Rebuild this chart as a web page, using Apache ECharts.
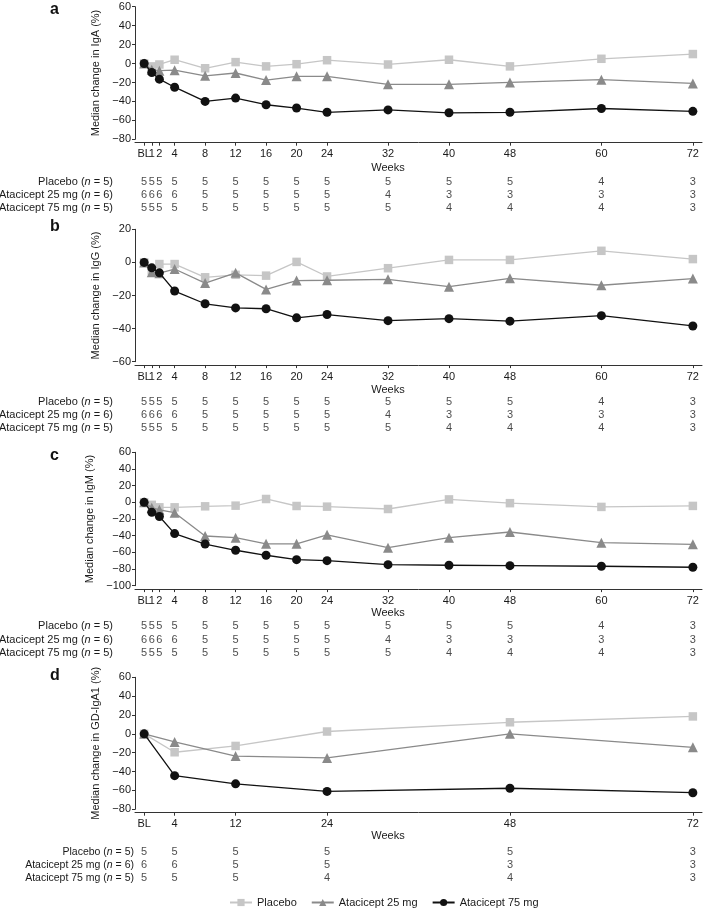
<!DOCTYPE html>
<html><head><meta charset="utf-8">
<script src="https://cdn.jsdelivr.net/npm/echarts@6/dist/echarts.min.js"></script>
<style>html,body{margin:0;padding:0;background:#fff}#c{width:705px;height:910px}</style>
</head><body><div id="c"></div>
<script>
// ---------- data ----------
const weeksABC = [0, 1, 2, 4, 8, 12, 16, 20, 24, 32, 40, 48, 60, 72];
const weeksD = [0, 4, 12, 24, 48, 72];
const xTickLabelsABC = ['BL', '1', '2', '4', '8', '12', '16', '20', '24', '32', '40', '48', '60', '72'];
const xTickLabelsD = ['BL', '4', '12', '24', '48', '72'];

const seriesNames = ['Placebo', 'Atacicept 25 mg', 'Atacicept 75 mg'];
const groupN = [5, 6, 5];

// a: IgA
const igaPlacebo = [0, -3, -1, 4, -5, 1.5, -3, -0.7, 3.5, -1, 4, -3, 5, 10];
const iga25 = [0, -6.5, -7.5, -7, -13, -10, -17.5, -13.5, -13.5, -22, -22, -20, -17, -21];
const iga75 = [0, -9.5, -16.5, -25, -40, -36.5, -43.5, -47, -51.5, -49, -52, -51.5, -47.5, -50.5];
// b: IgG
const iggPlacebo = [0, -5, -1, -1, -9, -7.5, -8, 0.3, -8.5, -3.5, 1.5, 1.5, 7, 2];
const igg25 = [0, -6, -6.5, -4, -12.5, -6.3, -16.3, -11, -10.8, -10.2, -14.7, -9.6, -13.8, -9.8];
const igg75 = [0, -3.3, -6.3, -17.3, -25, -27.5, -28, -33.5, -31.5, -35.2, -34, -35.5, -32.2, -38.4];
// c: IgM
const igmPlacebo = [0, -3, -6, -6, -4.8, -4, 4, -4.4, -5.2, -8, 3.5, -1, -5.5, -4.3];
const igm25 = [0, -6.4, -9, -12.4, -40.4, -42.4, -49.8, -49.8, -39, -54.4, -42.4, -35.6, -48.4, -50.4];
const igm75 = [0, -12, -17, -37.5, -50, -57.5, -63.5, -68.8, -70, -74.8, -75.5, -76, -76.7, -77.9];
// d: GD-IgA1
const gdPlacebo = [0, -19.5, -12.8, 2.5, 12.3, 18.5];
const gd25 = [0, -8.5, -23.5, -25.5, 0, -14.3];
const gd75 = [0, -44.3, -53, -61, -57.7, -62.4];

// patients at risk tables
const nPlaceboABC = [5, 5, 5, 5, 5, 5, 5, 5, 5, 5, 5, 5, 4, 3];
const n25ABC = [6, 6, 6, 6, 5, 5, 5, 5, 5, 4, 3, 3, 3, 3];
const n75ABC = [5, 5, 5, 5, 5, 5, 5, 5, 5, 5, 4, 4, 4, 3];
const nPlaceboD = [5, 5, 5, 5, 5, 3];
const n25D = [6, 6, 5, 5, 3, 3];
const n75D = [5, 5, 5, 4, 4, 3];

const yNames = ['Median change in IgA (%)', 'Median change in IgG (%)', 'Median change in IgM (%)', 'Median change in GD-IgA1 (%)'];
const panelLetters = ['a', 'b', 'c', 'd'];

// ---------- layout / style ----------
const FONT = '"Liberation Sans", Arial, sans-serif';
const TXT = '#1a1a1a';
const COLORS = ['#c6c6c6', '#8a8a8a', '#111111'];
const SYMBOLS = ['rect', 'triangle', 'circle'];
const SYMSIZE = [8.5, 10, 9];
const X_MIN = -1.2, X_MAX = 73.2, LEFT = 135, RIGHT = 3;

const panels = [
  { top: 6.7, height: 132.6, yMin: -80, yMax: 60, weeks: weeksABC, ticks: xTickLabelsABC,
    vals: [igaPlacebo, iga25, iga75], ns: [nPlaceboABC, n25ABC, n75ABC],
    tTop: 175, tH: 39, tMargin: 22, letterY: 11, weeksY: 168 },
  { top: 229.3, height: 132.4, yMin: -60, yMax: 20, weeks: weeksABC, ticks: xTickLabelsABC,
    vals: [iggPlacebo, igg25, igg75], ns: [nPlaceboABC, n25ABC, n75ABC],
    tTop: 395, tH: 40, tMargin: 22, letterY: 228, weeksY: 390 },
  { top: 452.3, height: 133.4, yMin: -100, yMax: 60, weeks: weeksABC, ticks: xTickLabelsABC,
    vals: [igmPlacebo, igm25, igm75], ns: [nPlaceboABC, n25ABC, n75ABC],
    tTop: 619, tH: 41, tMargin: 22, letterY: 457, weeksY: 613 },
  { top: 677.3, height: 132, yMin: -80, yMax: 60, weeks: weeksD, ticks: xTickLabelsD,
    vals: [gdPlacebo, gd25, gd75], ns: [nPlaceboD, n25D, n75D],
    tTop: 845.5, tH: 39, tMargin: 1, letterY: 677, weeksY: 836 }
];

const labelFmt = p => v => p.ticks[p.weeks.indexOf(v)] ?? '';
const grid = [], xAxis = [], yAxis = [], series = [], graphic = [];
panels.forEach((p, i) => {
  // chart grid
  grid.push({ left: LEFT, right: RIGHT, top: p.top, height: p.height, containLabel: false, outerBoundsMode: 'none' });
  const gi = grid.length - 1;
  // labels split over two axes so the crowded BL / 1 / 2 labels all stay visible
  const mainLabelWeeks = p.weeks.filter(w => w !== 1);
  const extraLabelWeeks = p.weeks.filter(w => w === 1);
  const xi = xAxis.length;
  xAxis.push({
    type: 'value', gridIndex: gi, min: X_MIN, max: X_MAX, offset: 3.4, position: 'bottom',
    axisLine: { show: true, onZero: false, lineStyle: { color: '#333', width: 1 } },
    splitLine: { show: false },
    axisTick: { show: true, customValues: p.weeks, length: 3, lineStyle: { color: '#333' } },
    axisLabel: {
      customValues: mainLabelWeeks, margin: 6, color: TXT, fontFamily: FONT, fontSize: 11,
      hideOverlap: false, formatter: labelFmt(p)
    }
  });
  if (extraLabelWeeks.length) {
    xAxis.push({
      type: 'value', gridIndex: gi, min: X_MIN, max: X_MAX, offset: 3.4, position: 'bottom',
      axisLine: { show: false, onZero: false }, splitLine: { show: false }, axisTick: { show: false },
      axisLabel: {
        customValues: extraLabelWeeks, margin: 6, color: TXT, fontFamily: FONT, fontSize: 11,
        formatter: labelFmt(p)
      }
    });
  }
  yAxis.push({
    type: 'value', gridIndex: gi, min: p.yMin, max: p.yMax, interval: 20, position: 'left',
    name: yNames[i], nameLocation: 'middle', nameGap: 34,
    nameTextStyle: { color: TXT, fontFamily: FONT, fontSize: 11 },
    axisLine: { show: true, onZero: false, lineStyle: { color: '#333', width: 1 } },
    splitLine: { show: false },
    axisTick: { show: true, length: 3, lineStyle: { color: '#333' } },
    axisLabel: { margin: 4, color: TXT, fontFamily: FONT, fontSize: 11,
      formatter: v => String(v).replace('-', '\u2212') }
  });
  const yi = yAxis.length - 1;
  p.vals.forEach((arr, s) => {
    series.push({
      type: 'line', name: seriesNames[s], xAxisIndex: xi, yAxisIndex: yi,
      data: p.weeks.map((w, k) => [w, arr[k]]),
      symbol: SYMBOLS[s], symbolSize: SYMSIZE[s], showSymbol: true,
      lineStyle: { color: COLORS[s], width: 1.3 },
      itemStyle: { color: COLORS[s], borderWidth: 0 },
      emphasis: { disabled: true }, animation: false, z: 2 + s
    });
  });

  // table grid
  grid.push({ left: LEFT, right: RIGHT, top: p.tTop, height: p.tH, containLabel: false, outerBoundsMode: 'none' });
  const ti = grid.length - 1;
  xAxis.push({ type: 'value', gridIndex: ti, min: X_MIN, max: X_MAX, show: false });
  const txi = xAxis.length - 1;
  const fs = i === 3 ? 10.5 : 11;
  yAxis.push({
    type: 'category', gridIndex: ti, data: [0, 1, 2], inverse: true, position: 'left',
    axisLine: { show: false, onZero: false }, axisTick: { show: false }, splitLine: { show: false },
    axisLabel: {
      interval: 0, hideOverlap: false,
      margin: p.tMargin, color: TXT, fontFamily: FONT, fontSize: fs,
      formatter: v => '{r|' + seriesNames[v] + ' (}{i|n}{r| = ' + groupN[v] + ')}',
      rich: {
        r: { color: TXT, fontFamily: FONT, fontSize: fs },
        i: { color: TXT, fontFamily: FONT, fontSize: fs, fontStyle: 'italic' }
      }
    }
  });
  const tyi = yAxis.length - 1;
  const tdata = [];
  p.ns.forEach((arr, r) => p.weeks.forEach((w, k) => tdata.push([w, r, arr[k]])));
  series.push({
    type: 'scatter', xAxisIndex: txi, yAxisIndex: tyi, data: tdata,
    symbolSize: 1, itemStyle: { color: 'rgba(0,0,0,0)' }, silent: true, animation: false,
    label: { show: true, position: 'inside', formatter: q => String(q.value[2]),
      color: TXT, fontFamily: FONT, fontSize: 11 },
    labelLayout: { hideOverlap: false }
  });

  graphic.push({ type: 'text', left: 50, top: p.letterY - 9,
    style: { text: panelLetters[i], font: 'bold 16px ' + FONT, fill: '#111' } });
  graphic.push({ type: 'text', x: 388, y: p.weeksY,
    style: { text: 'Weeks', font: '11px ' + FONT, fill: TXT, align: 'center', verticalAlign: 'middle' } });
});

const chart = echarts.init(document.getElementById('c'), null, { renderer: 'canvas' });
chart.setOption({
  backgroundColor: '#fff',
  animation: false,
  grid, xAxis, yAxis, series, graphic,
  legend: {
    data: seriesNames, left: 224, top: 892, itemWidth: 22, itemHeight: 9, itemGap: 14,
    textStyle: { color: TXT, fontFamily: FONT, fontSize: 11 }, selectedMode: false
  }
});
</script></body></html>
